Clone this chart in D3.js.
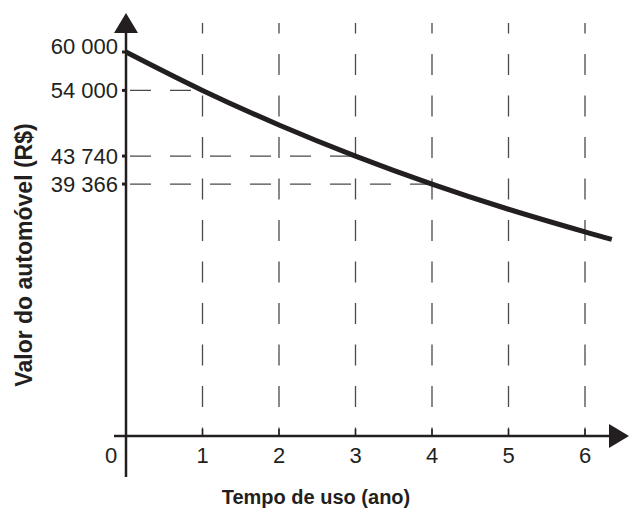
<!DOCTYPE html>
<html>
<head>
<meta charset="utf-8">
<script src="https://cdn.jsdelivr.net/npm/d3@7"></script>
<style>
  body { margin: 0; background: #fff; }
  text { font-family: Arial, "Liberation Sans", sans-serif; fill: #231f20; }
</style>
</head>
<body>
<div id="chart"></div>
<script>
// values
var years = [0, 1, 2, 3, 4, 5, 6, 6.35];
var values = [60000, 54000, 48600, 43740, 39366, 35429, 31886, 30720];

var yTicks = [60000, 54000, 43740, 39366];
var yTickLabels = ["60 000", "54 000", "43 740", "39 366"];
var xTicks = [1, 2, 3, 4, 5, 6];
var xTickLabels = ["1", "2", "3", "4", "5", "6"];

// dashed guides: value -> year where the horizontal guide stops
var guideValues = [54000, 43740, 39366];
var guideYears = [1, 3, 4];

var svgwidth = 629;
var svgheight = 514;
var ink = "#231f20";

var svg = d3.select("#chart").append("svg")
  .attr("width", svgwidth)
  .attr("height", svgheight);

var xscale = d3.scaleLinear().domain([0, 6]).range([126, 585]);
var yscale = d3.scaleLinear().domain([0, 60000]).range([436, 52]);

// vertical dashed lines
svg.selectAll(".vguide").data(xTicks).enter()
  .append("line")
  .attr("x1", d => xscale(d))
  .attr("x2", d => xscale(d))
  .attr("y1", 23)
  .attr("y2", yscale(0))
  .attr("stroke", "#4a4a4a")
  .attr("stroke-width", 1.3)
  .attr("stroke-dasharray", "21 20.5")
  .attr("stroke-dashoffset", 10.5);

// horizontal dashed lines
svg.selectAll(".hguide").data(guideValues).enter()
  .append("line")
  .attr("x1", xscale(0) + 4)
  .attr("x2", (d, i) => xscale(guideYears[i]))
  .attr("y1", d => yscale(d))
  .attr("y2", d => yscale(d))
  .attr("stroke", "#4a4a4a")
  .attr("stroke-width", 1.3)
  .attr("stroke-dasharray", "21 19");

// axes
svg.append("line")
  .attr("x1", xscale(0)).attr("x2", xscale(0))
  .attr("y1", 477).attr("y2", 30)
  .attr("stroke", ink).attr("stroke-width", 2.5);
svg.append("path")
  .attr("d", `M${xscale(0)},13 L${xscale(0) - 12},33 L${xscale(0) + 12},33 Z`)
  .attr("fill", ink);

svg.append("line")
  .attr("x1", 114).attr("x2", 612)
  .attr("y1", yscale(0)).attr("y2", yscale(0))
  .attr("stroke", ink).attr("stroke-width", 2.5);
svg.append("path")
  .attr("d", `M629,${yscale(0)} L609,${yscale(0) - 12} L609,${yscale(0) + 12} Z`)
  .attr("fill", ink);

// small ticks
svg.selectAll(".ytick").data(yTicks).enter()
  .append("line")
  .attr("x1", xscale(0) - 4).attr("x2", xscale(0))
  .attr("y1", d => yscale(d)).attr("y2", d => yscale(d))
  .attr("stroke", ink).attr("stroke-width", 3);

svg.selectAll(".xtick").data(xTicks).enter()
  .append("line")
  .attr("x1", d => xscale(d)).attr("x2", d => xscale(d))
  .attr("y1", yscale(0) - 7).attr("y2", yscale(0))
  .attr("stroke", ink).attr("stroke-width", 1.5);

// curve
var line = d3.line()
  .x((d, i) => xscale(years[i]))
  .y(d => yscale(d))
  .curve(d3.curveCatmullRom);

svg.append("path")
  .datum(values)
  .attr("d", line)
  .attr("fill", "none")
  .attr("stroke", ink)
  .attr("stroke-width", 5);

// tick labels
svg.selectAll(".ylabel").data(yTicks).enter()
  .append("text")
  .attr("x", 118)
  .attr("y", (d, i) => yscale(d) + 8 - (i == 0 ? 6.5 : 0))
  .attr("text-anchor", "end")
  .attr("font-size", "22px")
  .text((d, i) => yTickLabels[i]);

svg.selectAll(".xlabel").data(xTicks).enter()
  .append("text")
  .attr("x", d => xscale(d))
  .attr("y", 463)
  .attr("text-anchor", "middle")
  .attr("font-size", "22px")
  .text((d, i) => xTickLabels[i]);

svg.append("text")
  .attr("x", 111).attr("y", 463)
  .attr("text-anchor", "middle")
  .attr("font-size", "22px")
  .text("0");

// axis titles
svg.append("text")
  .attr("transform", "translate(32, 255) rotate(-90)")
  .attr("text-anchor", "middle")
  .attr("font-size", "23px")
  .attr("font-weight", "bold")
  .text("Valor do automóvel (R$)");

svg.append("text")
  .attr("x", 316).attr("y", 504)
  .attr("text-anchor", "middle")
  .attr("font-size", "20px")
  .attr("font-weight", "bold")
  .text("Tempo de uso (ano)");
</script>
</body>
</html>
